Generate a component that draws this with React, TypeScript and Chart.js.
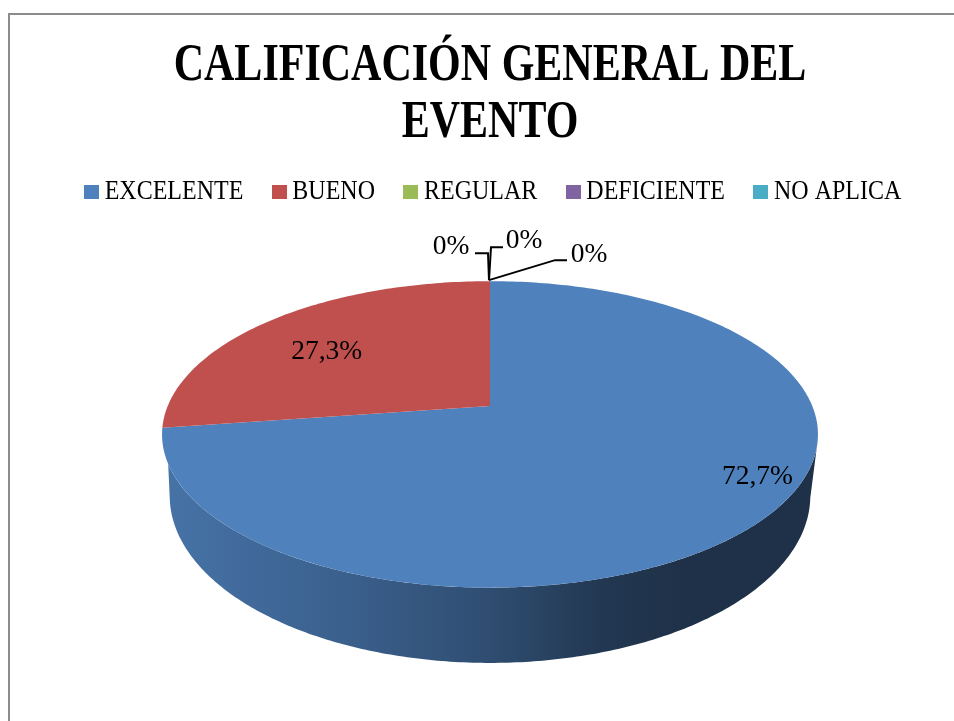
import React, { useEffect, useRef } from "react";
import { Chart, registerables } from "chart.js";

Chart.register(...registerables);

const categories = ["EXCELENTE", "BUENO", "REGULAR", "DEFICIENTE", "NO APLICA"];
const values = [72.7, 27.3, 0, 0, 0];
const colors = ["#4f81bd", "#c0504d", "#9bbb59", "#8064a2", "#4bacc6"];
const titleLines = ["CALIFICACIÓN GENERAL DEL", "EVENTO"];

const SERIF = "'Liberation Serif', serif";
// perspective of the tilted disc, relative to the library's pie radius
const TILT = -0.1857;
const FACE_X = 1.775;
const FACE_Y = 0.815;
const BASE_X = 1.7336;
const BASE_Y = 0.8888;
const BASE_DROP = 58.8;
// where the wall leaves the rim of the face and meets the base, as angles from the horizontal
const WALL_FACE = [0.27, Math.PI - 0.374];
const WALL_BASE = [0.2, Math.PI - 0.2];
// label placement relative to the slice's rim point: [dx, dy]
const labelOffsets = [[-10, -39], [54, 32], [-39, -34], [34, -40], [99, -26]];
const leaders = [
  null,
  null,
  [[-2, -28], [-15, -28]],
  [[1, -34], [13, -34]],
  [[65, -21], [77, -21]],
];
const wallStops: [number, number][] = [
  [0.0, 0.88], [0.26, 0.75], [0.5, 0.6], [0.68, 0.43], [0.8, 0.38], [1, 0.38],
];

function shade(hex: string, f: number) {
  const n = parseInt(hex.slice(1), 16);
  const c = [(n >> 16) & 255, (n >> 8) & 255, n & 255].map((v) => Math.round(v * f));
  return `rgb(${c[0]},${c[1]},${c[2]})`;
}

function project(arc: any, angle: number, sx: number, sy: number, drop: number) {
  const u = Math.cos(angle);
  const v = Math.sin(angle);
  const d = 1 + TILT * v;
  const R = arc.outerRadius;
  return { x: arc.x + (sx * R * u) / d, y: arc.y + drop + (sy * R * v) / d };
}

function squeeze(box: any, sx: number, sy: number, dx: number, dy: number) {
  const original = box.draw;
  box.draw = function (...args: any[]) {
    const ctx = box.ctx;
    const cx = box.left + box.width / 2;
    const cy = box.top + box.height / 2;
    ctx.save();
    ctx.translate(cx + dx, cy + dy);
    ctx.scale(sx, sy);
    ctx.translate(-cx, -cy);
    original.apply(box, args);
    ctx.restore();
  };
}

const perspectivePie = {
  id: "perspectivePie",
  afterLayout(chart: any) {
    if (chart.$squeezed) return;
    chart.$squeezed = true;
    squeeze(chart.titleBlock, 0.808, 1, 0, 1);
    squeeze(chart.legend, 1, 1.12, 6, -12);
  },
  beforeDraw(chart: any) {
    const { ctx } = chart;
    ctx.save();
    ctx.fillStyle = "#ffffff";
    ctx.fillRect(0, 0, chart.width, chart.height);
    ctx.strokeStyle = "#8c8c8c";
    ctx.lineWidth = 2;
    ctx.beginPath();
    ctx.moveTo(9, chart.height);
    ctx.lineTo(9, 14);
    ctx.lineTo(chart.width, 14);
    ctx.stroke();
    ctx.restore();
  },
  beforeDatasetsDraw(chart: any) {
    const { ctx } = chart;
    const arcs = chart.getDatasetMeta(0).data;
    ctx.save();
    // the visible wall takes the colour of the slice that holds the front of the disc
    const frontIndex = arcs.findIndex((a: any) => a.startAngle <= Math.PI / 2 && a.endAngle >= Math.PI / 2);
    const front = arcs[frontIndex];
    const g = ctx.createLinearGradient(front.x - 320, 0, front.x + 320, 0);
    wallStops.forEach(([p, f]) => g.addColorStop(p, shade(colors[frontIndex], f)));
    ctx.fillStyle = g;
    const steps = 240;
    ctx.beginPath();
    for (let s = 0; s <= steps; s++) {
      const a = WALL_FACE[0] + ((WALL_FACE[1] - WALL_FACE[0]) * s) / steps;
      const p = project(front, a, FACE_X, FACE_Y, 0);
      if (s === 0) ctx.moveTo(p.x, p.y);
      else ctx.lineTo(p.x, p.y);
    }
    for (let s = steps; s >= 0; s--) {
      const a = WALL_BASE[0] + ((WALL_BASE[1] - WALL_BASE[0]) * s) / steps;
      const p = project(front, a, BASE_X, BASE_Y, BASE_DROP);
      ctx.lineTo(p.x, p.y);
    }
    ctx.closePath();
    ctx.fill();

    arcs.forEach((arc: any, i: number) => {
      const span = arc.endAngle - arc.startAngle;
      if (span <= 0) return;
      ctx.fillStyle = colors[i];
      ctx.beginPath();
      ctx.moveTo(arc.x, arc.y);
      const n = Math.ceil(span * 60);
      for (let s = 0; s <= n; s++) {
        const p = project(arc, arc.startAngle + (span * s) / n, FACE_X, FACE_Y, 0);
        ctx.lineTo(p.x, p.y);
      }
      ctx.closePath();
      ctx.fill();
    });
    ctx.restore();
    return false;
  },
  afterDraw(chart: any) {
    const { ctx } = chart;
    const arcs = chart.getDatasetMeta(0).data;
    ctx.save();
    ctx.font = `27.5px ${SERIF}`;
    ctx.fillStyle = "#000000";
    ctx.textAlign = "center";
    ctx.textBaseline = "middle";
    arcs.forEach((arc: any, i: number) => {
      const mid = (arc.startAngle + arc.endAngle) / 2;
      const p = project(arc, mid, FACE_X, FACE_Y, 0);
      const text = values[i] > 0 ? `${values[i].toFixed(1).replace(".", ",")}%` : "0%";
      ctx.fillText(text, p.x + labelOffsets[i][0], p.y + labelOffsets[i][1]);
      const lead = leaders[i];
      if (lead) {
        ctx.strokeStyle = "#000000";
        ctx.lineWidth = 2;
        ctx.beginPath();
        ctx.moveTo(p.x - 1, p.y - 1);
        lead.forEach(([dx, dy]) => ctx.lineTo(p.x + dx, p.y + dy));
        ctx.stroke();
      }
    });
    ctx.restore();
  },
};

function swatch(color: string) {
  const c = document.createElement("canvas");
  c.width = 15;
  c.height = 13;
  const x = c.getContext("2d")!;
  x.fillStyle = color;
  x.fillRect(0, 0, 15, 13);
  return c;
}

export default function App() {
  const ref = useRef<HTMLCanvasElement | null>(null);
  useEffect(() => {
    const chart = new Chart(ref.current!, {
      type: "pie",
      data: {
        labels: categories,
        datasets: [{ data: values, backgroundColor: colors, borderWidth: 0 }],
      },
      options: {
        responsive: false,
        animation: false,
        layout: { padding: { left: 26, right: 0, top: 0, bottom: 133.5 } },
        plugins: {
          tooltip: { enabled: false },
          title: {
            display: true,
            text: titleLines,
            color: "#000000",
            font: { family: SERIF, size: 52, weight: "bold", lineHeight: 1.1 },
            padding: { top: 37, bottom: 4 },
          },
          legend: {
            display: true,
            position: "top",
            labels: {
              color: "#000000",
              font: { family: SERIF, size: 24 },
              usePointStyle: true,
              boxWidth: 2,
              padding: 35,
              generateLabels: () =>
                categories.map((text, i) => ({
                  text,
                  fillStyle: colors[i],
                  strokeStyle: colors[i],
                  lineWidth: 0,
                  hidden: false,
                  index: i,
                  pointStyle: swatch(colors[i]),
                })),
            },
          },
        },
      } as any,
      plugins: [perspectivePie],
    });
    return () => chart.destroy();
  }, []);
  return (
    <canvas
      ref={ref}
      width={954}
      height={721}
      style={{ position: "absolute", left: 0, top: 0, width: 954, height: 721 }}
    />
  );
}
